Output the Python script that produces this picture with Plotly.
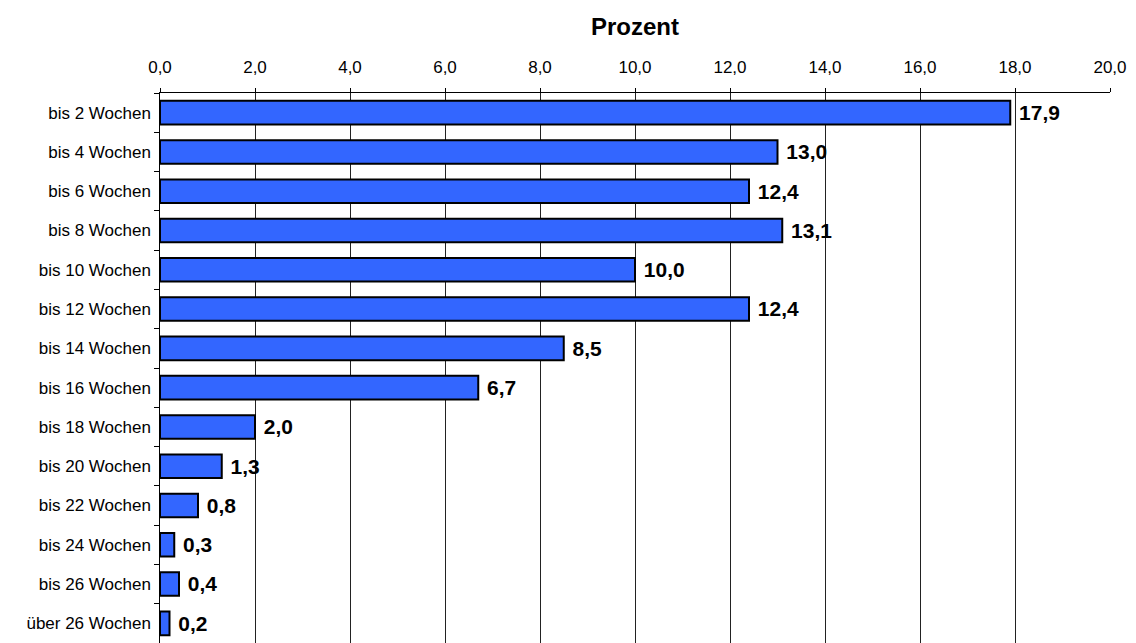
import plotly.graph_objects as go

# Anteile nach Dauer
kategorien = ["bis 2 Wochen", "bis 4 Wochen", "bis 6 Wochen", "bis 8 Wochen",
              "bis 10 Wochen", "bis 12 Wochen", "bis 14 Wochen", "bis 16 Wochen",
              "bis 18 Wochen", "bis 20 Wochen", "bis 22 Wochen", "bis 24 Wochen",
              "bis 26 Wochen", "über 26 Wochen"]
prozent = [17.9, 13.0, 12.4, 13.1, 10.0, 12.4, 8.5, 6.7, 2.0, 1.3, 0.8, 0.3, 0.4, 0.2]
x_ticks = [0, 2, 4, 6, 8, 10, 12, 14, 16, 18, 20]

W, H = 1136, 643
ML, MR, MT, MB = 160, 26, 93, 0
FONT = "Liberation Sans, Arial, sans-serif"

fig = go.Figure(go.Bar(
    y=kategorien,
    x=prozent,
    orientation="h",
    width=0.6,
    marker=dict(color="#3366FF", line=dict(color="#000000", width=2)),
    text=prozent,
    texttemplate=" %{x:.1f}",
    textposition="outside",
    cliponaxis=False,
    textfont=dict(family=FONT, size=24, color="#000000", weight="bold"),
))

fig.update_layout(
    width=W, height=H,
    margin=dict(l=ML, r=MR, t=MT, b=MB),
    paper_bgcolor="#FFFFFF",
    plot_bgcolor="#FFFFFF",
    separators=",.",
    showlegend=False,
    bargap=0.4,
    font=dict(family=FONT, size=17, color="#000000"),
    xaxis=dict(
        side="top",
        range=[0, 20],
        tickvals=x_ticks,
        tickformat=".1f",
        ticks="outside",
        ticklen=4,
        tickcolor="#000000",
        ticklabelstandoff=8,
        showline=True,
        linecolor="#000000",
        linewidth=1,
        showgrid=True,
        gridcolor="#222222",
        gridwidth=1,
        zeroline=False,
        tickfont=dict(size=17),
    ),
    yaxis=dict(
        type="category",
        categoryorder="array",
        categoryarray=kategorien,
        autorange="reversed",
        ticks="outside",
        tickson="boundaries",
        ticklen=5,
        tickcolor="#000000",
        showline=True,
        linecolor="#000000",
        linewidth=1,
        showgrid=False,
        tickfont=dict(size=17),
        ticksuffix=" ",
    ),
    annotations=[dict(
        text="<b>Prozent</b>",
        xref="paper", yref="paper",
        x=0.5, y=1 + (MT - 27) / (H - MT - MB),
        xanchor="center", yanchor="middle",
        showarrow=False,
        font=dict(size=24, color="#000000"),
    )],
)

fig.write_html("out.html")
